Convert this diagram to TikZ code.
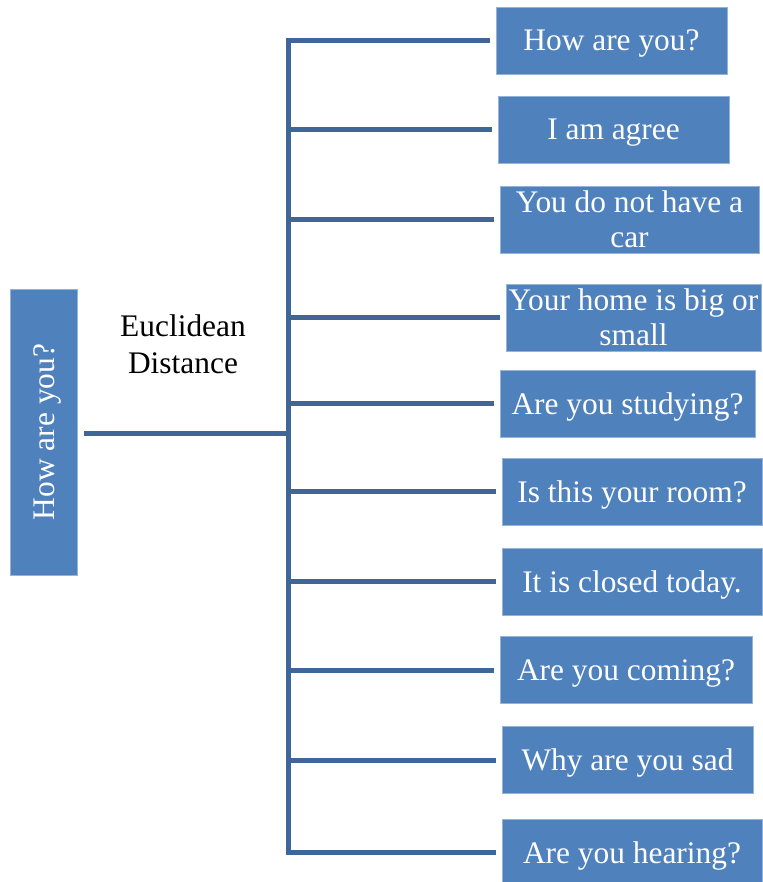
\documentclass[tikz,border=0pt]{standalone}
\usepackage{fontspec}
\setmainfont{Liberation Serif}
\usetikzlibrary{positioning}
\definecolor{BoxBlue}{HTML}{4F81BD}
\definecolor{LineBlue}{HTML}{3F6699}
\tikzset{
  sentbox/.style={fill=BoxBlue,draw=BoxBlue!60!white,line width=0.3pt,text=white,align=center,minimum height=33.5pt,inner xsep=0pt,inner ysep=2pt,text depth=0pt,font=\fontsize{15.7}{17.5}\selectfont},
  branch/.style={line width=2.5pt,draw=LineBlue,shorten >=3pt},
  trunk/.style={line width=2.5pt,draw=LineBlue,line cap=rect}
}
\begin{document}
\begin{tikzpicture}[x=0.5pt,y=-0.5pt]
\useasboundingbox (0,0) rectangle (762,882);
% query sentence on the left
\node[sentbox,rotate=90,minimum width=143pt] (query) at (44,432) {How are you?};
\node[align=center,font=\fontsize{15.7}{18.5}\selectfont] (metric) at (183,344) {Euclidean\\Distance};
\coordinate (hub) at (288,433);

% compared sentences
\node[sentbox,minimum width=115.5pt] (s1) at (611.5,40.5) {How are you?};
\node[sentbox,minimum width=115.5pt] (s2) at (613.5,129.5) {I am agree};
\node[sentbox,minimum width=129.5pt] (s3) at (629.5,219.5) {You do not have a\\car};
\node[sentbox,minimum width=127.5pt] (s4) at (633.5,317.5) {Your home is big or\\small};
\node[sentbox,minimum width=127.5pt] (s5) at (627.5,403.5) {Are you studying?};
\node[sentbox,minimum width=130pt] (s6) at (632,491.5) {Is this your room?};
\node[sentbox,minimum width=130pt] (s7) at (632,581.5) {It is closed today.};
\node[sentbox,minimum width=126pt] (s8) at (626,670) {Are you coming?};
\node[sentbox,minimum width=125.5pt] (s9) at (627.5,760) {Why are you sad};
\node[sentbox,minimum width=130pt] (s10) at (632,852.5) {Are you hearing?};

% tree lines
\draw[trunk,line cap=butt,shorten <=3pt] (hub -| query.south) -- (hub);
\draw[trunk] (s1.west -| hub) -- (s10.west -| hub);
\draw[branch] (s1.west -| hub) -- (s1.west);
\draw[branch] (s2.west -| hub) -- (s2.west);
\draw[branch] (s3.west -| hub) -- (s3.west);
\draw[branch] (s4.west -| hub) -- (s4.west);
\draw[branch] (s5.west -| hub) -- (s5.west);
\draw[branch] (s6.west -| hub) -- (s6.west);
\draw[branch] (s7.west -| hub) -- (s7.west);
\draw[branch] (s8.west -| hub) -- (s8.west);
\draw[branch] (s9.west -| hub) -- (s9.west);
\draw[branch] (s10.west -| hub) -- (s10.west);
\end{tikzpicture}
\end{document}
